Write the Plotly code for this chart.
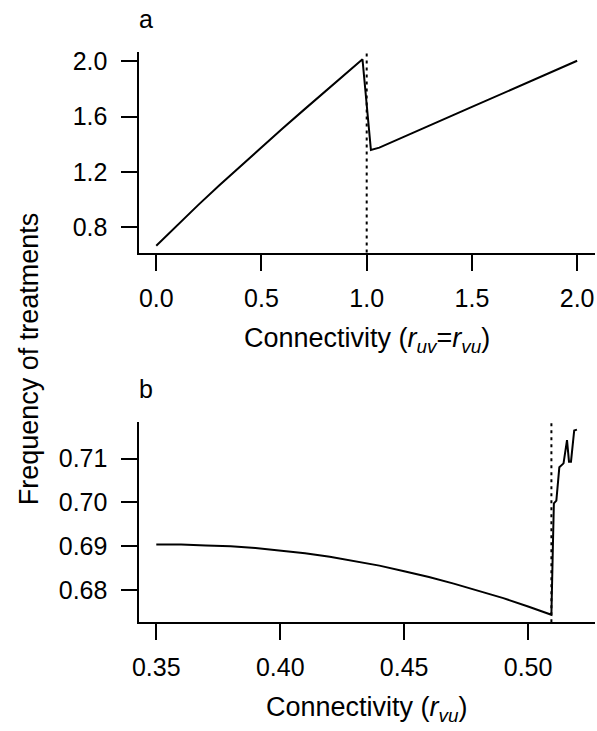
import plotly.graph_objects as go

# ---------------- data ----------------
# Panel a: connectivity r_uv = r_vu
a_x = [0.0, 0.1, 0.2, 0.3, 0.4, 0.5, 0.6, 0.7, 0.8, 0.9, 0.96, 0.98,
       1.02, 1.04, 1.06, 1.5, 2.0]
a_y = [0.667, 0.816, 0.962, 1.104, 1.243, 1.380, 1.514, 1.647, 1.780, 1.912,
       1.992, 2.014, 1.359, 1.366, 1.376, 1.670, 2.004]
a_threshold = 1.0
a_xticks = [0.0, 0.5, 1.0, 1.5, 2.0]
a_yticks = [0.8, 1.2, 1.6, 2.0]

# Panel b: connectivity r_vu
b_x = [0.35, 0.36, 0.37, 0.38, 0.39, 0.40, 0.41, 0.42, 0.43, 0.44, 0.45,
       0.46, 0.47, 0.48, 0.49, 0.50, 0.5094,
       0.5100, 0.5104, 0.5114, 0.5126, 0.5143, 0.5157, 0.5165, 0.5173,
       0.5186, 0.5197]
b_y = [0.6904, 0.6904, 0.6902, 0.6900, 0.6896, 0.6890, 0.6884, 0.6876,
       0.6866, 0.6856, 0.6843, 0.6830, 0.6815, 0.6799, 0.6782, 0.6763,
       0.6744,
       0.6900, 0.6998, 0.7004, 0.7080, 0.7089, 0.7142, 0.7093, 0.7093,
       0.7164, 0.7166]
b_threshold = 0.5094
b_xticks = [0.35, 0.40, 0.45, 0.50]
b_yticks = [0.68, 0.69, 0.70, 0.71]

# ---------------- figure ----------------
W, H = 597, 731
FONT = "Liberation Sans, Arial, Helvetica, sans-serif"
FS = 25
FT = 27

fig = go.Figure()
fig.add_trace(go.Scatter(x=a_x, y=a_y, mode="lines",
                         line=dict(color="black", width=2),
                         xaxis="x", yaxis="y", showlegend=False,
                         hoverinfo="skip"))
fig.add_trace(go.Scatter(x=b_x, y=b_y, mode="lines",
                         line=dict(color="black", width=2),
                         xaxis="x2", yaxis="y2", showlegend=False,
                         hoverinfo="skip"))

def px_x(p):
    return p / W

def px_y(p):
    return 1 - p / H

xdom = [px_x(134), px_x(595)]
ydom_a = [px_y(249.3), px_y(47.7)]
ydom_b = [px_y(621.5), px_y(420)]

axis_common = dict(showline=True, linecolor="black", linewidth=2,
                   ticks="outside", ticklen=16, tickwidth=1.5,
                   tickcolor="black", showgrid=False, zeroline=False,
                   tickfont=dict(family=FONT, size=FS, color="black"),
                   mirror=False, fixedrange=True)

fig.update_layout(
    width=W, height=H,
    margin=dict(l=0, r=0, t=0, b=0),
    paper_bgcolor="white", plot_bgcolor="white",
    font=dict(family=FONT, size=FS, color="black"),
    xaxis=dict(domain=xdom, anchor="y", range=[-0.08, 2.085],
               tickvals=a_xticks, tickformat=".1f",
               ticklabelstandoff=6, **axis_common),
    yaxis=dict(domain=ydom_a, anchor="x", range=[0.617, 2.0645],
               tickvals=a_yticks, tickformat=".1f",
               ticklabelstandoff=9, **axis_common),
    xaxis2=dict(domain=xdom, anchor="y2", range=[0.3432, 0.527],
                tickvals=b_xticks, tickformat=".2f",
                ticklabelstandoff=6, **axis_common),
    yaxis2=dict(domain=ydom_b, anchor="x2", range=[0.6727, 0.7183],
                tickvals=b_yticks, tickformat=".2f",
                ticklabelstandoff=9, **axis_common),
)

# threshold dotted lines
for xv, xr, yr in [(a_threshold, "x", "y domain"), (b_threshold, "x2", "y2 domain")]:
    fig.add_shape(type="line", xref=xr, yref=yr, x0=xv, x1=xv, y0=0, y1=1,
                  line=dict(color="black", width=2, dash="3px,4px"),
                  layer="above")

# panel letters
fig.add_annotation(text="a", xref="paper", yref="paper",
                   x=px_x(140.7), y=px_y(14), xanchor="center",
                   yanchor="middle", showarrow=False,
                   font=dict(family=FONT, size=FS, color="black"))
fig.add_annotation(text="b", xref="paper", yref="paper",
                   x=px_x(140.7), y=px_y(386.5), xanchor="center",
                   yanchor="middle", showarrow=False,
                   font=dict(family=FONT, size=FS, color="black"))

# axis titles
fig.add_annotation(text="Connectivity (<i>r</i><sub><i>uv</i></sub>=<i>r</i><sub><i>vu</i></sub>)",
                   xref="paper", yref="paper", x=px_x(364.5), y=px_y(337),
                   xanchor="center", yanchor="middle", showarrow=False,
                   font=dict(family=FONT, size=FT, color="black"))
fig.add_annotation(text="Connectivity (<i>r</i><sub><i>vu</i></sub>)",
                   xref="paper", yref="paper", x=px_x(364.5), y=px_y(709),
                   xanchor="center", yanchor="middle", showarrow=False,
                   font=dict(family=FONT, size=FT, color="black"))
fig.add_annotation(text="Frequency of treatments",
                   xref="paper", yref="paper", x=px_x(22), y=px_y(356),
                   xanchor="center", yanchor="middle", showarrow=False,
                   textangle=-90,
                   font=dict(family=FONT, size=FT, color="black"))

fig.write_html("out.html")
